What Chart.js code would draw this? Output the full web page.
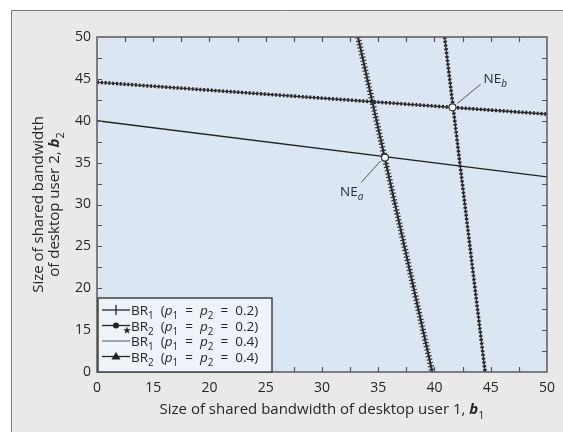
<!DOCTYPE html>
<html>
<head>
<meta charset="utf-8">
<script src="https://cdn.jsdelivr.net/npm/chart.js@4/dist/chart.umd.min.js"></script>
<style>
  html, body { margin: 0; padding: 0; background: #fff; }
  canvas { display: block; }
</style>
</head>
<body>
<canvas id="c" width="563" height="432"></canvas>
<script>
// Axis values: the axes are broken, the first tick (value 10) is labelled "0"
const xTicks = [10, 15, 20, 25, 30, 35, 40, 45, 50];
const yTicks = [10, 15, 20, 25, 30, 35, 40, 45, 50];
const tickText = { 10: '0' };

// best response lines, [b1, b2] end points
const br1p02 = [[10, 44.6], [50, 40.8]];
const br2p02 = [[40.9, 50], [44.5, 10]];
const br1p04 = [[10, 40.0], [50, 33.3]];
const br2p04 = [[33.2, 50], [39.8, 10]];

// Nash equilibria
const neNames = ['a', 'b'];
const nePoints = [[35.6, 35.6], [41.6, 41.6]];

const FONT = '"Open Sans", "Noto Sans", sans-serif';
const TEXT = '#262626';
const INK = '#222';

const toXY = arr => arr.map(p => ({ x: p[0], y: p[1] }));

// text made of pieces: [str, style], style '' | 'i' | 'ib' | 's' (subscript) | 'si' | 'g' (gap, str = px)
function fontFor(st, size) {
    const sub = st.includes('s');
    const ital = st.includes('i') ? 'italic ' : '';
    const bold = st.includes('b') ? 'bold ' : '';
    return ital + bold + (sub ? Math.round(size * 0.72) : size) + 'px ' + FONT;
}
function richWidth(ctx, parts, size) {
    let w = 0;
    for (const [t, st] of parts) {
        if (st === 'g') { w += t; continue; }
        ctx.font = fontFor(st, size);
        w += ctx.measureText(t).width;
    }
    return w;
}
function drawRich(ctx, parts, x, y, size) {
    for (const [t, st] of parts) {
        if (st === 'g') { x += t; continue; }
        ctx.font = fontFor(st, size);
        ctx.fillText(t, x, y + (st.includes('s') ? size * 0.3 : 0));
        x += ctx.measureText(t).width;
    }
}

const frame = {
    id: 'frame',
    beforeDraw(chart) {
        const ctx = chart.ctx, a = chart.chartArea;
        ctx.save();
        ctx.fillStyle = '#fff';
        ctx.fillRect(0, 0, chart.width, chart.height);
        ctx.fillStyle = '#e9e9e9';
        ctx.fillRect(11, 10, chart.width, chart.height);
        ctx.strokeStyle = '#7a7a7a';
        ctx.lineWidth = 1;
        ctx.beginPath();
        ctx.moveTo(11.5, chart.height);
        ctx.lineTo(11.5, 10.5);
        ctx.lineTo(chart.width, 10.5);
        ctx.stroke();
        ctx.fillStyle = '#dce6f2';
        ctx.fillRect(a.left, a.top, a.right - a.left, a.bottom - a.top);
        ctx.restore();
    },
    afterDatasetsDraw(chart) {
        const ctx = chart.ctx, a = chart.chartArea;
        const xs = chart.scales.x, ys = chart.scales.y;
        ctx.save();
        // inward ticks every 2.5
        ctx.strokeStyle = '#555';
        ctx.lineWidth = 1.2;
        ctx.beginPath();
        for (let v = 12.5; v < 50; v += 2.5) {
            const px = Math.round(xs.getPixelForValue(v)) + 0.5;
            ctx.moveTo(px, a.bottom); ctx.lineTo(px, a.bottom - 5);
            ctx.moveTo(px, a.top); ctx.lineTo(px, a.top + 5);
            const py = Math.round(ys.getPixelForValue(v)) + 0.5;
            ctx.moveTo(a.left, py); ctx.lineTo(a.left + 5, py);
            ctx.moveTo(a.right, py); ctx.lineTo(a.right - 5, py);
        }
        ctx.stroke();
        ctx.strokeStyle = '#5a5a5a';
        ctx.lineWidth = 1.5;
        ctx.strokeRect(a.left, a.top, a.right - a.left, a.bottom - a.top);

        // NE annotations
        ctx.fillStyle = '#22304a';
        ctx.strokeStyle = '#555';
        ctx.lineWidth = 1;
        ctx.textBaseline = 'alphabetic';
        ctx.textAlign = 'left';
        nePoints.forEach((p, i) => {
            const px = xs.getPixelForValue(p[0]), py = ys.getPixelForValue(p[1]);
            let lx, ly, l0, l1;
            if (i === 0) { lx = -45; ly = 38; l0 = [-24, 25]; l1 = [-4, 3]; }
            else { lx = 31; ly = -24; l0 = [28, -23]; l1 = [5, -4]; }
            ctx.beginPath();
            ctx.moveTo(px + l0[0], py + l0[1]);
            ctx.lineTo(px + l1[0], py + l1[1]);
            ctx.stroke();
            drawRich(ctx, [['NE', ''], [neNames[i], 'si']], px + lx, py + ly, 13.5);
        });

        // legend
        const bx = 98, by = 298, bw = 174, bh = a.bottom - 298;
        ctx.fillStyle = '#eef3fa';
        ctx.fillRect(bx, by, bw, bh);
        ctx.strokeStyle = '#444';
        ctx.lineWidth = 1.5;
        ctx.strokeRect(bx, by, bw, bh);
        const rows = [
            { p: '0.2', br: '1', mark: 'plus' },
            { p: '0.2', br: '2', mark: 'circle' },
            { p: '0.4', br: '1', mark: 'none' },
            { p: '0.4', br: '2', mark: 'tri' }
        ];
        rows.forEach((r, i) => {
            const y = 310 + i * 15.5;
            ctx.strokeStyle = i === 2 ? '#777' : INK;
            ctx.lineWidth = 1.3;
            ctx.beginPath();
            ctx.moveTo(102, y); ctx.lineTo(130, y);
            ctx.stroke();
            ctx.fillStyle = INK;
            ctx.strokeStyle = INK;
            if (r.mark === 'plus') {
                ctx.beginPath();
                ctx.moveTo(116, y - 5); ctx.lineTo(116, y + 5);
                ctx.stroke();
            } else if (r.mark === 'circle') {
                ctx.beginPath();
                ctx.arc(116, y, 3, 0, Math.PI * 2);
                ctx.fill();
                // star
                ctx.beginPath();
                for (let k = 0; k < 10; k++) {
                    const rr = k % 2 ? 1.6 : 4;
                    const ang = -Math.PI / 2 + k * Math.PI / 5;
                    const sx = 127 + rr * Math.cos(ang), sy = y + 5 + rr * Math.sin(ang);
                    k ? ctx.lineTo(sx, sy) : ctx.moveTo(sx, sy);
                }
                ctx.closePath();
                ctx.fill();
            } else if (r.mark === 'tri') {
                ctx.beginPath();
                ctx.moveTo(116, y - 4.5); ctx.lineTo(120.5, y + 3); ctx.lineTo(111.5, y + 3);
                ctx.closePath();
                ctx.fill();
            }
            ctx.fillStyle = TEXT;
            drawRich(ctx, [['BR', ''], [r.br, 's'], [7, 'g'], ['(', ''], ['p', 'i'], ['1', 's'],
                [7, 'g'], ['=', ''], [7, 'g'], ['p', 'i'], ['2', 's'],
                [7, 'g'], ['=', ''], [7, 'g'], [r.p + ')', '']], 131, y + 5, 13.5);
        });
        ctx.restore();
    },
    afterDraw(chart) {
        const ctx = chart.ctx, a = chart.chartArea;
        ctx.save();
        ctx.fillStyle = TEXT;
        ctx.textAlign = 'left';
        // x title
        const xt = [['Size of shared bandwidth of desktop user 1, ', ''], ['b', 'ib'], ['1', 's']];
        const xw = richWidth(ctx, xt, 15);
        drawRich(ctx, xt, (a.left + a.right) / 2 - xw / 2, 414, 15);
        // y title, rotated
        ctx.translate(0, (a.top + a.bottom) / 2);
        ctx.rotate(-Math.PI / 2);
        const y1 = [['Size of shared bandwidth', '']];
        const y2 = [['of desktop user 2, ', ''], ['b', 'ib'], ['2', 's']];
        drawRich(ctx, y1, -richWidth(ctx, y1, 15) / 2, 43, 15);
        drawRich(ctx, y2, -richWidth(ctx, y2, 15) / 2, 59, 15);
        ctx.restore();
    }
};

const baseLine = (data, w) => ({
    data: toXY(data), showLine: true, pointRadius: 0, borderColor: INK,
    borderWidth: w, fill: false, order: 3
});
const markLine = (data, w, dash, col) => ({
    data: toXY(data), showLine: true, pointRadius: 0, borderColor: col,
    borderWidth: w, borderDash: dash, fill: false, order: 2
});

new Chart(document.getElementById('c'), {
    type: 'scatter',
    data: {
        datasets: [
            {
                label: 'NE', data: toXY(nePoints), pointRadius: 3.5,
                pointBackgroundColor: '#fff', pointBorderColor: '#333',
                pointBorderWidth: 1.2, order: 0
            },
            baseLine(br1p02, 1.2),
            markLine(br1p02, 3.6, [2, 1.8], '#2b2b2b'),
            baseLine(br2p02, 1.2),
            markLine(br2p02, 3.6, [2, 1.8], '#2b2b2b'),
            baseLine(br1p04, 1.3),
            baseLine(br2p04, 2),
            markLine(br2p04, 6, [1.2, 2.2], '#333')
        ]
    },
    plugins: [frame],
    options: {
        responsive: false,
        animation: false,
        devicePixelRatio: 1,
        layout: { padding: { top: 37, right: 15, left: 0, bottom: 0 } },
        plugins: { legend: { display: false }, tooltip: { enabled: false } },
        scales: {
            x: {
                type: 'linear', min: 10, max: 50,
                afterBuildTicks: s => { s.ticks = xTicks.map(v => ({ value: v })); },
                afterFit: s => { s.height = 60; },
                grid: { display: false, drawTicks: false },
                border: { display: false },
                ticks: {
                    padding: 8, color: TEXT, font: { family: FONT, size: 14 },
                    callback: v => tickText[v] || String(v)
                }
            },
            y: {
                type: 'linear', min: 10, max: 50,
                afterBuildTicks: s => { s.ticks = yTicks.map(v => ({ value: v })); },
                afterFit: s => { s.width = 97; },
                grid: { display: false, drawTicks: false },
                border: { display: false },
                ticks: {
                    padding: 6, color: TEXT, font: { family: FONT, size: 14 },
                    callback: v => tickText[v] || String(v)
                }
            }
        }
    }
});
</script>
</body>
</html>
